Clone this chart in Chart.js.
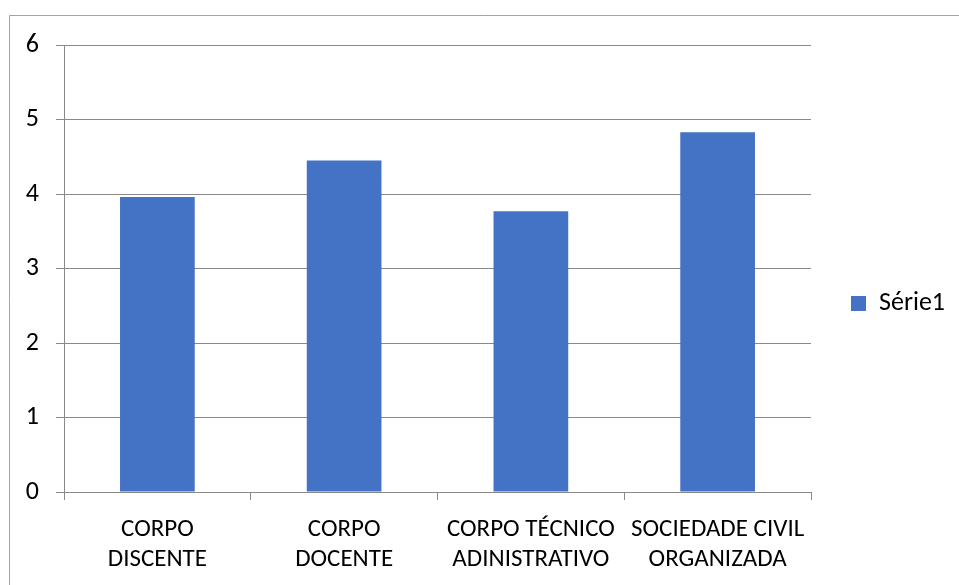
<!DOCTYPE html>
<html><head><meta charset="utf-8">
<script src="https://cdn.jsdelivr.net/npm/chart.js@4.4.1/dist/chart.umd.min.js"></script>
<style>html,body{margin:0;padding:0;background:#fff}#wrap{width:959px;height:585px;position:relative}</style>
</head><body><div id="wrap"><canvas id="c" width="959" height="585"></canvas></div>
<script>
const categories = [['CORPO','DISCENTE'],['CORPO','DOCENTE'],['CORPO TÉCNICO','ADINISTRATIVO'],['SOCIEDADE CIVIL','ORGANIZADA']];
const seriesName = 'Série1';
const seriesValues = [3.96, 4.45, 3.77, 4.83];
const yMin = 0, yMax = 6, yStep = 1;

const FONT = 'Carlito, Lato, "Liberation Sans", sans-serif';
const GRID = '#898989';

const framePlugin = {
  id: 'frame',
  beforeDraw(chart) {
    const ctx = chart.ctx;
    ctx.save();
    ctx.fillStyle = '#fff';
    ctx.fillRect(0, 0, chart.width, chart.height);
    ctx.strokeStyle = '#a3a3a3';
    ctx.lineWidth = 1;
    ctx.beginPath();
    ctx.moveTo(9.5, chart.height);
    ctx.lineTo(9.5, 15.5);
    ctx.lineTo(chart.width, 15.5);
    ctx.stroke();
    ctx.restore();
  }
};

const legendPlacePlugin = {
  id: 'legendPlace',
  afterInit(chart) {
    const lg = chart.legend;
    if (lg && !lg._patched) {
      const orig = lg.fit;
      lg.fit = function() { orig.call(this); this.width = 148; };
      lg._patched = true;
    }
  },
  afterLayout(chart) {
    const lg = chart.legend;
    if (lg) {
      lg.top = 45;
      lg.bottom = 562;
      lg.height = 517;
    }
  }
};

new Chart(document.getElementById('c'), {
  type: 'bar',
  data: {
    labels: categories,
    datasets: [{
      label: seriesName,
      data: seriesValues,
      backgroundColor: '#4472C4',
      borderWidth: 0,
      barPercentage: 0.4,
      categoryPercentage: 1.0
    }]
  },
  options: {
    responsive: false,
    devicePixelRatio: 1,
    animation: false,
    layout: { padding: { top: 45, left: 0, right: 0, bottom: 0 } },
    plugins: {
      tooltip: { enabled: false },
      legend: {
        position: 'right',
        align: 'center',
        labels: {
          color: '#000',
          font: { family: FONT, size: 26 },
          boxWidth: 15,
          boxHeight: 15,
          padding: 40
        }
      }
    },
    scales: {
      x: {
        type: 'category',
        offset: true,
        afterFit(s) { s.height = 93; },
        grid: { offset: true, drawOnChartArea: false, drawTicks: true, tickLength: 8, color: GRID },
        border: { display: true, color: GRID },
        ticks: {
          color: '#000',
          font: { family: FONT, size: 25, lineHeight: 1.2 },
          padding: 15,
          maxRotation: 0,
          autoSkip: false
        }
      },
      y: {
        min: yMin, max: yMax,
        afterFit(s) { s.width = 64; },
        grid: { color: GRID, tickLength: 8, drawTicks: true },
        border: { display: true, color: GRID },
        ticks: {
          stepSize: yStep,
          color: '#000',
          font: { family: FONT, size: 26 },
          padding: 17
        }
      }
    }
  },
  plugins: [framePlugin, legendPlacePlugin]
});
</script></body></html>
